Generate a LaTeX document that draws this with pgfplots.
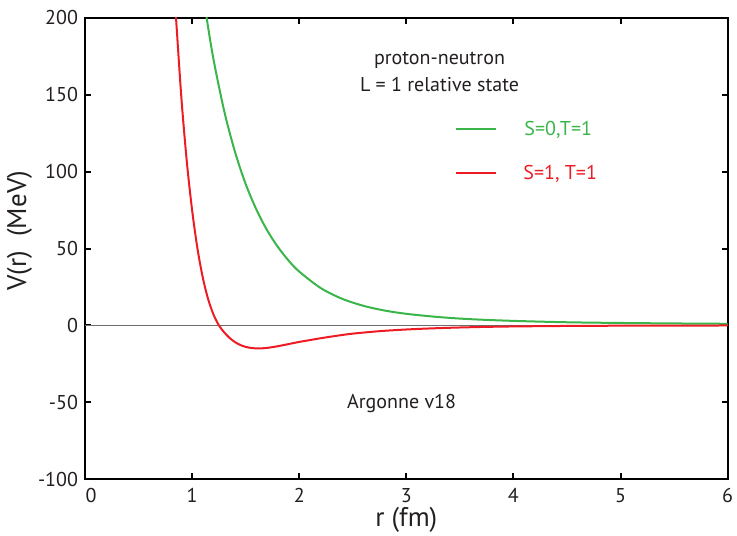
\documentclass[border=0pt]{standalone}
\usepackage{fontspec}
\setmainfont{PT Sans}
\usepackage{pgfplots}
\pgfplotsset{compat=1.18}
\definecolor{ggreen}{RGB}{57,181,74}
\definecolor{rred}{RGB}{237,28,36}
\definecolor{txt}{RGB}{35,31,32}
\begin{document}
\begin{tikzpicture}
\begin{axis}[name=ax, scale only axis, width=321.3pt, height=230.5pt,
  xmin=0, xmax=6, ymin=-100, ymax=200,
  xtick={0,1,2,3,4,5,6}, xticklabels={{\kern6pt 0},1,2,3,4,5,6},
  ytick={-100,-50,0,50,100,150,200}, yticklabels={-100,-50,0,50,100,150,200},
  tick align=inside, major tick length=3pt, minor tick num=0,
  axis line style={line width=1.1pt, black},
  major tick style={line width=1pt, black},
  tick label style={font=\fontsize{10}{11}\selectfont, text=txt},
  xticklabel style={yshift=-1.2pt},
  xlabel={r (fm)}, ylabel={V(r)\ \ (MeV)},
  label style={font=\fontsize{13.5}{15}\selectfont, text=txt},
  xlabel style={at={(axis description cs:0.5,-0.1041)}, anchor=base},
  ylabel style={at={(axis description cs:-0.0918,0.5386)}, anchor=base},
  clip=true]
% zero line
\addplot[color={rgb,255:red,110;green,110;blue,110}, line width=0.6pt, forget plot] coordinates {(0,0) (6,0)};
% S=0, T=1
\addplot[ggreen, line width=1pt, smooth] coordinates {
(1.10,218) (1.136,200) (1.20,173) (1.30,139.4) (1.40,113) (1.50,92) (1.60,75.4) (1.70,61.9)
(1.80,51.1) (1.90,42.2) (2.00,35.0) (2.20,24.3) (2.40,17.3) (2.60,12.7) (2.80,9.6)
(3.00,7.5) (3.30,5.4) (3.60,4.0) (4.00,2.9) (4.50,2.0) (5.00,1.54) (5.50,1.23) (6.00,1.0)};
% S=1, T=1
\addplot[rred, line width=1pt, smooth] coordinates {
(0.82,233) (0.85,200) (0.90,148) (0.95,107) (1.00,75) (1.05,50) (1.10,31) (1.15,17) (1.20,7)
(1.25,0) (1.30,-4.6) (1.35,-8.2) (1.40,-10.9) (1.45,-12.8) (1.50,-14.0) (1.55,-14.7)
(1.60,-15.0) (1.65,-14.95) (1.70,-14.7) (1.80,-13.6) (1.90,-12.2) (2.00,-10.8) (2.10,-9.6)
(2.20,-8.4) (2.35,-6.8) (2.50,-5.4) (2.75,-3.8) (3.00,-2.7) (3.25,-1.95) (3.50,-1.4)
(3.75,-1.0) (4.00,-0.72) (4.50,-0.4) (5.00,-0.24) (5.50,-0.15) (6.00,-0.1)};
% legend samples
\addplot[ggreen, line width=1pt, forget plot] coordinates {(3.464,128) (3.838,128)};
\addplot[rred, line width=1pt, forget plot] coordinates {(3.464,99.3) (3.838,99.3)};
\node[anchor=base west, inner sep=0pt, text=ggreen, font=\fontsize{10}{12}\selectfont] at (axis cs:4.099,123.3) {S=0,T=1};
\node[anchor=base west, inner sep=0pt, text=rred, font=\fontsize{10}{12}\selectfont] at (axis cs:4.09,95) {S=1, T=1};
% annotations
\node[anchor=base, inner sep=0pt, text=txt, font=\fontsize{10}{12}\selectfont] at (axis cs:3.31,169.8) {proton-neutron};
\node[anchor=base, inner sep=0pt, text=txt, font=\fontsize{10}{12}\selectfont] at (axis cs:3.31,152.4) {L = 1 relative state};
\node[anchor=base, inner sep=0pt, text=txt, font=\fontsize{10}{12}\selectfont] at (axis cs:2.956,-54.2) {Argonne v18};
\end{axis}
\pgfresetboundingbox
\path ([xshift=-42.5pt,yshift=-28pt]ax.south west) rectangle ([xshift=4.7pt,yshift=9pt]ax.north east);
\end{tikzpicture}
\end{document}
